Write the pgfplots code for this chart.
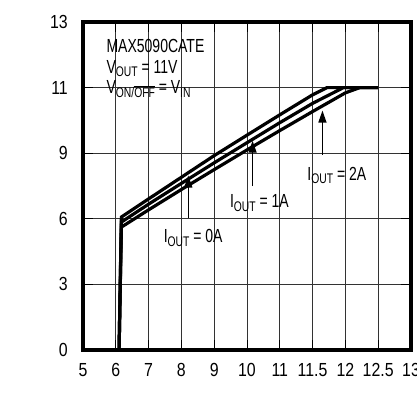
\documentclass[border=0pt]{standalone}
\usepackage{fontspec}
\setmainfont{Liberation Sans}[FakeStretch=0.74]
\newfontfamily\tickfont{Liberation Sans}[FakeStretch=0.84]
\usepackage{pgfplots}
\pgfplotsset{compat=1.18}
\usetikzlibrary{arrows.meta}
\newcommand{\sub}[1]{\raisebox{-0.17em}{\fontsize{14}{14}\selectfont #1}}
\pgfplotsset{layers/mylayers/.define layer set={axis background,axis grid,boxlayer,axis ticks,axis lines,axis tick labels,main,axis descriptions,axis foreground}{}}
\begin{document}
\fontsize{19}{21}\selectfont
\begin{tikzpicture}
\begin{axis}[
  set layers=mylayers,
  scale only axis, width=328bp, height=328bp,
  x coord trafo/.code={\pgfmathparse{(#1<11)*(#1-5)+(1-(#1<11))*(6+2*(#1-11))}},
  y coord trafo/.code={\pgfmathparse{(#1<9)*(#1/3)+(1-(#1<9))*(3+(#1-9)/2)}},
  xmin=5, xmax=13, ymin=0, ymax=13,
  xtick={5,6,7,8,9,10,11,11.5,12,12.5,13},
  xticklabels={5,6,7,8,9,10,11,11.5,12,12.5,13},
  ytick={0,3,6,9,11,13},
  yticklabels={0,3,6,9,11,13},
  tick label style={font=\tickfont\fontsize{19}{21}\selectfont, inner sep=0pt},
  xticklabel shift=13bp,
  yticklabel shift=15bp,
  grid=major,
  major grid style={line width=0.8bp, black!80},
  major tick length=10bp,
  tick style={line width=1bp, black},
]
\coordinate (bl) at (rel axis cs:0,0);
\begin{pgfonlayer}{boxlayer}
\fill[white] (rel axis cs:0,0.75) rectangle (rel axis cs:0.398,1);
\end{pgfonlayer}
\begin{pgfonlayer}{axis lines}
\draw[line width=3.6bp, line join=miter] (rel axis cs:0,0) rectangle (rel axis cs:1,1);
\end{pgfonlayer}
% I_OUT = 0A
\addplot[black, line width=3.2bp] coordinates {
 (6.10,0) (6.17,6.08) (7,6.91) (8,7.90) (9,8.89) (10,9.55) (11,10.17) (11.5,10.78) (11.72,11) (12.5,11)};
% I_OUT = 1A
\addplot[black, line width=3.2bp] coordinates {
 (6.10,0) (6.17,5.85) (7,6.67) (8,7.62) (9,8.56) (10,9.32) (11,9.93) (11.5,10.52) (11.97,11) (12.5,11)};
% I_OUT = 2A
\addplot[black, line width=3.2bp] coordinates {
 (6.10,0) (6.17,5.62) (7,6.41) (8,7.34) (9,8.25) (10,9.10) (11,9.69) (11.5,10.27) (12,10.84) (12.22,11) (12.5,11)};
\draw[line width=1.3bp, -{Triangle[width=8bp,length=12bp]}] (axis cs:8.21,6.04) -- (axis cs:8.21,7.98);
\draw[line width=1.3bp, -{Triangle[width=8bp,length=12bp]}] (axis cs:10.17,7.5) -- (axis cs:10.17,9.38);
\draw[line width=1.3bp, -{Triangle[width=8bp,length=12bp]}] (axis cs:11.65,8.92) -- (axis cs:11.65,10.3);
\node at (axis cs:8.36,5.12) {I\sub{OUT} = 0A};
\node at (axis cs:10.38,6.72) {I\sub{OUT} = 1A};
\node at (axis cs:11.87,8.0) {I\sub{OUT} = 2A};
\node[anchor=base west] at (rel axis cs:0.052,0.9076) {MAX5090CATE};
\node[anchor=base west] at (rel axis cs:0.052,0.8436) {V\sub{OUT} = 11V};
\node[anchor=base west] at (rel axis cs:0.052,0.7805) {V\sub{ON/$\overline{\mbox{OFF}}$} = V\sub{IN}};
\node[anchor=base] at (rel axis cs:0.5,-0.162) {V\sub{IN} (V)};
\node[rotate=90, anchor=base] at (rel axis cs:-0.155,0.512) {V\sub{OUT} (V)};
\node[anchor=base, font=\bfseries\fontsize{19}{21}\selectfont] at (rel axis cs:0.498,1.049) {vs. INPUT VOLTAGE};
\end{axis}
\pgfresetboundingbox
\useasboundingbox ([shift={(-83bp,-59bp)}]bl) rectangle ([shift={(334bp,350bp)}]bl);
\end{tikzpicture}
\end{document}
